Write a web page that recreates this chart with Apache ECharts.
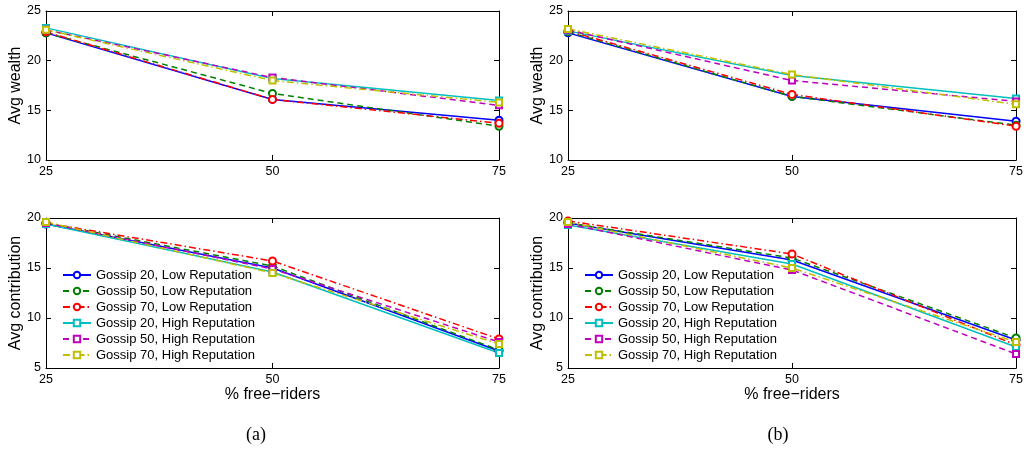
<!DOCTYPE html>
<html>
<head>
<meta charset="utf-8">
<script src="https://cdn.jsdelivr.net/npm/echarts@6/dist/echarts.min.js"></script>
<style>
html, body { margin: 0; padding: 0; background: #fff; }
#main { width: 1026px; height: 454px; }
</style>
</head>
<body>
<div id="main"></div>
<script>
// x categories (% free-riders)
var xVals = [25, 50, 75];
var seriesNames = [
	'Gossip 20, Low Reputation',
	'Gossip 50, Low Reputation',
	'Gossip 70, Low Reputation',
	'Gossip 20, High Reputation',
	'Gossip 50, High Reputation',
	'Gossip 70, High Reputation'
];

// panel (a) top: avg wealth
var wealthA = [
	[22.8, 16.1, 14.0],
	[22.8, 16.7, 13.4],
	[22.9, 16.1, 13.7],
	[23.3, 18.2, 16.0],
	[23.1, 18.3, 15.5],
	[23.1, 18.0, 15.8]
];
// panel (b) top: avg wealth
var wealthB = [
	[22.8, 16.4, 13.9],
	[22.9, 16.4, 13.5],
	[23.0, 16.6, 13.4],
	[23.0, 18.5, 16.2],
	[23.1, 18.0, 15.9],
	[23.2, 18.6, 15.6]
];
// panel (a) bottom: avg contribution
var contribA = [
	[19.4, 15.0, 6.7],
	[19.5, 15.2, 6.8],
	[19.5, 15.7, 7.9],
	[19.4, 14.6, 6.5],
	[19.5, 14.9, 7.6],
	[19.6, 14.5, 7.4]
];
// panel (b) bottom: avg contribution
var contribB = [
	[19.5, 15.8, 7.8],
	[19.5, 16.0, 8.0],
	[19.7, 16.4, 7.3],
	[19.3, 15.4, 7.1],
	[19.4, 14.8, 6.4],
	[19.6, 15.0, 7.6]
];

var colors = ['#0000ff', '#008000', '#ff0000', '#00bfbf', '#bf00bf', '#bfbf00'];
var dashes = ['solid', [6, 4], [7, 3, 1.5, 3], 'solid', [6, 4], [7, 3, 1.5, 3]];
var symbols = ['emptyCircle', 'emptyCircle', 'emptyCircle', 'emptyRect', 'emptyRect', 'emptyRect'];

var font = 'Liberation Sans, Arial, Helvetica, sans-serif';

var grids = [
	{left: 46, top: 11, width: 453, height: 149},
	{left: 568, top: 11, width: 454, height: 149},
	{left: 46, top: 218, width: 453, height: 150},
	{left: 568, top: 218, width: 454, height: 150}
];

var xAxes = [], yAxes = [], series = [];
var panels = [wealthA, wealthB, contribA, contribB];

for (var g = 0; g < 4; g++) {
	var bottom = g >= 2;
	// bottom x axis
	xAxes.push({
		type: 'value', gridIndex: g, min: 25, max: 75, interval: 25, position: 'bottom',
		name: bottom ? '% free\u2212riders' : '', nameLocation: 'middle', nameGap: 18,
		nameTextStyle: {fontFamily: font, fontSize: 16, color: '#000'},
		axisLine: {onZero: false, lineStyle: {color: '#000', width: 1}},
		axisTick: {inside: true, length: 5, lineStyle: {color: '#000'}},
		axisLabel: {fontFamily: font, fontSize: 12.5, color: '#000', margin: 5},
		splitLine: {show: false}
	});
	// mirrored top x axis (box)
	xAxes.push({
		type: 'value', gridIndex: g, min: 25, max: 75, interval: 25, position: 'top',
		axisLine: {onZero: false, lineStyle: {color: '#000', width: 1}},
		axisTick: {inside: true, length: 5, lineStyle: {color: '#000'}},
		axisLabel: {show: false},
		splitLine: {show: false}
	});
	var ymin = bottom ? 5 : 10, ymax = bottom ? 20 : 25;
	yAxes.push({
		type: 'value', gridIndex: g, min: ymin, max: ymax, interval: 5, position: 'left',
		name: bottom ? 'Avg contribution' : 'Avg wealth', nameLocation: 'middle', nameGap: 21,
		nameTextStyle: {fontFamily: font, fontSize: 16, color: '#000'},
		axisLine: {show: true, onZero: false, lineStyle: {color: '#000', width: 1}},
		axisTick: {show: true, inside: true, length: 5, lineStyle: {color: '#000'}},
		axisLabel: {fontFamily: font, fontSize: 12.5, color: '#000', margin: 5},
		splitLine: {show: false}
	});
	yAxes.push({
		type: 'value', gridIndex: g, min: ymin, max: ymax, interval: 5, position: 'right',
		axisLine: {show: true, onZero: false, lineStyle: {color: '#000', width: 1}},
		axisTick: {show: true, inside: true, length: 5, lineStyle: {color: '#000'}},
		axisLabel: {show: false},
		splitLine: {show: false}
	});

	var vals = panels[g];
	for (var s = 0; s < 6; s++) {
		var pts = [];
		for (var k = 0; k < xVals.length; k++) pts.push([xVals[k], vals[s][k]]);
		series.push({
			name: seriesNames[s],
			type: 'line',
			xAxisIndex: g * 2,
			yAxisIndex: g * 2,
			data: pts,
			clip: false,
			symbol: symbols[s],
			symbolSize: s < 3 ? 7 : 6,
			color: colors[s],
			itemStyle: {color: colors[s], borderColor: colors[s], borderWidth: 1.5},
			lineStyle: {color: colors[s], width: 1.5, type: dashes[s]},
			emphasis: {disabled: true}
		});
	}
}

function makeLegend(left) {
	return {
		data: seriesNames,
		orient: 'vertical',
		left: left,
		top: 268,
		padding: 0,
		itemWidth: 28,
		itemHeight: 8,
		itemGap: 2,
		selectedMode: false,
		textStyle: {fontFamily: font, fontSize: 13, color: '#000', lineHeight: 14}
	};
}

var option = {
	animation: false,
	backgroundColor: '#fff',
	grid: grids,
	xAxis: xAxes,
	yAxis: yAxes,
	legend: [makeLegend(62), makeLegend(584)],
	series: series,
	graphic: [
		{type: 'text', x: 256, y: 435, style: {text: '(a)', font: '18px "Liberation Serif", "Times New Roman", serif', fill: '#000', align: 'center', verticalAlign: 'middle'}},
		{type: 'text', x: 778, y: 435, style: {text: '(b)', font: '18px "Liberation Serif", "Times New Roman", serif', fill: '#000', align: 'center', verticalAlign: 'middle'}}
	]
};

var myChart = echarts.init(document.getElementById('main'));
myChart.setOption(option, true);
</script>
</body>
</html>
